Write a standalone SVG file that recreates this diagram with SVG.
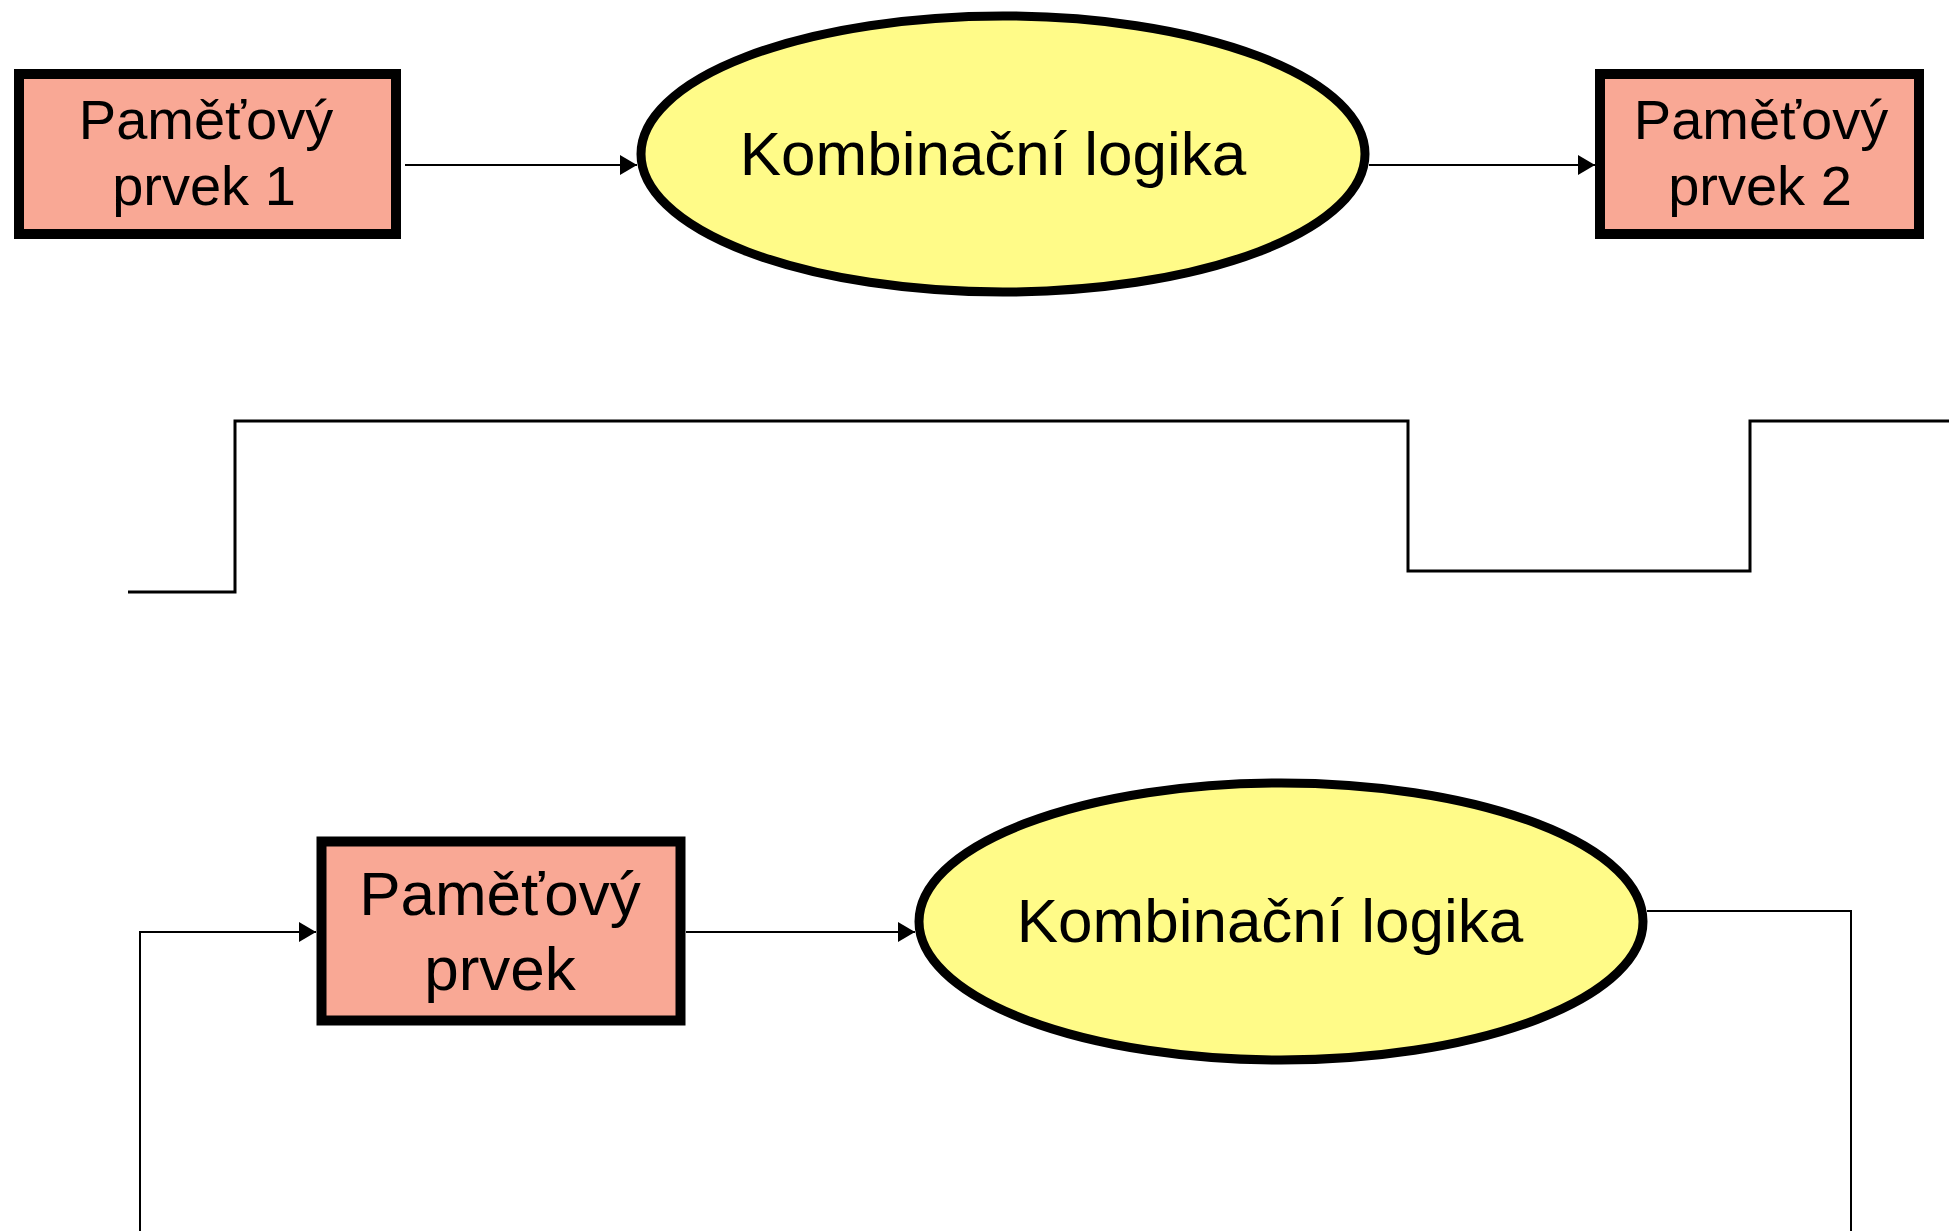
<svg xmlns="http://www.w3.org/2000/svg" width="1949" height="1231" viewBox="0 0 1949 1231">
  <style>
    .mem { fill: #F9A895; stroke: #000; stroke-width: 10; }
    .logic { fill: #FFFB88; stroke: #000; stroke-width: 9; }
    .lbl { font-family: "Liberation Sans", Arial, sans-serif; fill: #000; text-anchor: middle; }
    .wire { fill: none; stroke: #000; stroke-width: 2; }
    .clock { fill: none; stroke: #000; stroke-width: 3; }
  </style>
  <defs>
    <marker id="arrow" viewBox="0 0 17 20" refX="17" refY="10" markerWidth="17" markerHeight="20" markerUnits="userSpaceOnUse" orient="auto">
      <path d="M0,0 L17,10 L0,20 z" fill="#000"/>
    </marker>
  </defs>
  <rect width="1949" height="1231" fill="#fff"/>

  <!-- connectors -->
  <g id="connectors">
    <path class="wire" d="M405,165 H637" marker-end="url(#arrow)"/>
    <path class="wire" d="M1369,165 H1595" marker-end="url(#arrow)"/>
    <path class="wire" d="M686,932 H915" marker-end="url(#arrow)"/>
    <path class="wire" d="M1647,911 H1851 V1231"/>
    <path class="wire" d="M140,1231 V932 H316" marker-end="url(#arrow)"/>
  </g>

  <!-- clock signal -->
  <path id="clock" class="clock" d="M128,592 H235 V421 H1408 V571 H1750 V421 H1949"/>

  <!-- top row -->
  <g id="mem1">
    <rect class="mem" x="19" y="74" width="377" height="160"/>
    <text class="lbl" font-size="56" x="206" y="139">Paměťový</text>
    <text class="lbl" font-size="56" x="204" y="205">prvek 1</text>
  </g>
  <g id="logic1">
    <ellipse class="logic" cx="1003" cy="154" rx="362" ry="138"/>
    <text class="lbl" font-size="62" x="993" y="175">Kombinační logika</text>
  </g>
  <g id="mem2">
    <rect class="mem" x="1600" y="74" width="319" height="160"/>
    <text class="lbl" font-size="56" x="1761" y="139">Paměťový</text>
    <text class="lbl" font-size="56" x="1760" y="205">prvek 2</text>
  </g>

  <!-- bottom row -->
  <g id="mem3">
    <rect class="mem" x="321.5" y="841.5" width="359" height="179" stroke-width="11"/>
    <text class="lbl" font-size="62" x="500" y="915">Paměťový</text>
    <text class="lbl" font-size="62" x="500" y="990">prvek</text>
  </g>
  <g id="logic2">
    <ellipse class="logic" cx="1281" cy="921.5" rx="362" ry="138.5"/>
    <text class="lbl" font-size="62" x="1270" y="942">Kombinační logika</text>
  </g>
</svg>
